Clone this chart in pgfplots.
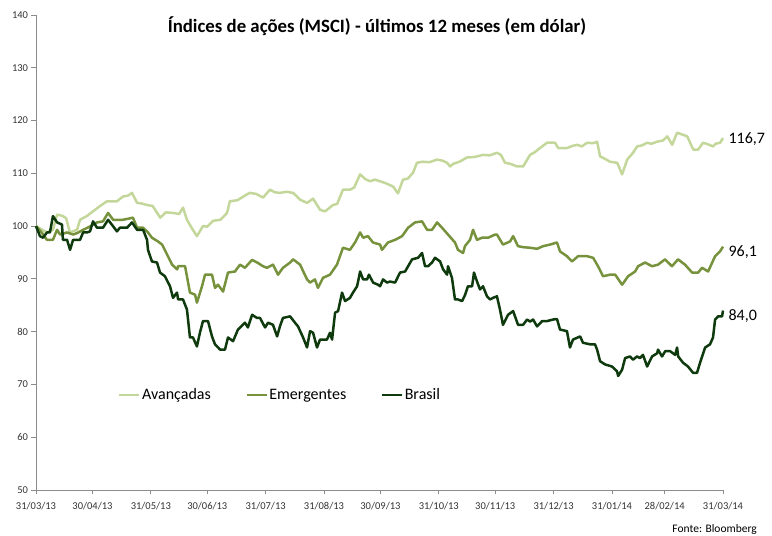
\documentclass[border=0pt]{standalone}
\usepackage{fontspec}
\setmainfont{Carlito}
\usepackage{pgfplots}
\usepackage{pgfplotstable}
\pgfplotsset{compat=1.18}
\definecolor{avan}{HTML}{C4D79B}
\definecolor{emer}{HTML}{76923C}
\definecolor{bras}{HTML}{0E3A0E}
\definecolor{axgray}{HTML}{8C8C8C}
\definecolor{ticktxt}{HTML}{333333}

\pgfplotstableread{
d v
0 100
5.8 98.8
9 99.3
11.2 102.2
14.3 101.9
16 101.5
18 98.8
21.8 99.3
23.4 101.2
27 101.9
30.3 102.8
34 103.8
37.7 104.7
43 104.7
46.2 105.6
49 105.8
51 106.3
53.7 104.4
56 104.3
59 104
62 103.8
66 101.6
69 102.6
72.8 102.5
76 102.3
78.1 103.5
80.2 101.2
83 99.5
85.5 98.1
88.7 100
91 99.9
94 101
98 101.2
101.5 102.5
103 104.7
107 104.9
112 106
113.7 106.3
117 106.1
120.6 105.4
124.3 106.9
127 106.4
129.6 106.3
133 106.5
136.6 106.3
140.3 105
144 104.4
147.2 105.2
150.9 103.1
153.6 102.8
157.8 104
160 104.2
163.1 106.9
166.8 106.9
169 107.3
172.2 109.8
175 108.9
177.5 108.5
180 108.8
182.8 108.5
186 108.1
189.7 107.5
192.3 106.2
195 108.8
197.5 109
200.3 110.1
202.4 112
205.6 112.2
209 112.1
213 112.6
216 112.4
218.4 112
220 111.3
221.6 111.8
225 112.2
229 113
233 113.1
237.5 113.5
241 113.4
244.9 113.9
247 113.5
249.2 112
252 111.8
255.6 111.3
258.8 111.3
262.5 113.5
265 114
267.8 114.8
271.5 115.8
275.8 115.8
277.4 114.8
282.2 114.8
285 115.2
287.5 115.4
290 115.1
292.8 115.8
296 115.7
298.1 116
299.7 113.2
302 112.8
305 112.2
308.8 112
311.4 109.8
314.1 112.6
317 113.8
319.4 115.1
322 115.3
324.7 115.8
327 115.6
330 116
333 116.2
335.4 117
338 115.4
340.6 117.7
343 117.4
346 117
349.2 114.5
351.8 114.5
354.4 115.8
357 115.5
359.7 115.1
361 115.6
363.5 115.8
365 116.7
}\avanc

\pgfplotstableread{
d v
0 100
3 98.8
5.8 97.4
9 97.4
11.2 99.3
12.8 98.4
16.5 98.8
19.7 98.4
22 98.7
25 99.3
28 99.8
32.4 100.7
35.6 100.9
38.3 102.5
41 101.2
46.2 101.2
49 101.4
51.5 101.6
53.7 99.7
56.9 99.7
59.5 98.8
61.6 97.8
64.8 97.1
67 96.5
70.1 94.3
72.3 92.7
75 91.8
75.5 92.4
79.2 92.4
81.8 87.4
84.5 87
85.5 85.5
88.2 88.6
89.8 90.8
93.5 90.8
95.1 88.3
96.7 88.9
99.4 87.6
102 91.2
105.7 91.4
108.4 92.7
111 92.1
114.8 93.6
118 93
120.6 92.4
122.7 92.1
125.9 92.7
128.6 90.8
131.2 92.1
135 93.1
136.6 93.7
140.3 92.7
144 89.9
145.6 89.3
148.2 89.9
149.8 88.3
152.5 90.2
156.2 90.8
159.9 92.7
163.1 95.9
166.8 95.5
169.5 96.9
172.2 98.8
173.8 97.8
176.4 98.1
179 96.9
182.8 96.5
183.8 95.5
187 96.9
190.8 97.4
194.5 98.1
197.7 99.7
201.4 100.7
205.1 100.9
207.8 99.3
210.4 99.3
213.1 100.7
215.7 99.7
218.9 98.4
222.6 96.9
224.2 95.5
226.9 94.9
227.9 96.2
230.6 97.4
232.2 99.3
234.3 97.4
237 97.8
240.2 97.8
243.9 98.4
244.9 98.4
248.1 96.5
251.9 97.1
253.5 98.1
256.1 96.2
259 96
262.5 95.9
266.2 95.7
269.4 96.2
273.1 96.5
276.8 96.9
278.4 95.2
282.1 94.3
284.8 93.3
288 94.3
292.8 94.3
296 94
298.6 92.4
301.3 90.5
305 90.8
307.7 90.8
311.4 88.9
314.6 90.5
318.3 91.4
319.9 92.4
323.6 93.1
327.3 92.4
330.5 92.7
334.2 93.7
337.9 92.4
341.1 93.7
344.8 92.7
348.6 91.2
351.8 91.2
353.9 92.1
357.1 91.4
360.8 94.3
363.4 95.2
365 96.1
}\emerg

\pgfplotstableread{
d v
0 100
2.1 98.1
3.7 97.8
5.8 98.8
7.4 98.8
9 101.9
11.2 100.7
13.8 100.3
14.3 97.4
16.5 97.4
18.1 95.5
19.7 97.4
23.4 97.4
25 98.8
27.1 98.8
28.7 99
30.3 100.9
32.4 99.7
35.6 99.7
38.3 101.2
40.9 100
43 99
44.6 99.7
48.4 99.7
51 100.7
53.7 99.3
56.9 99.3
59 97.4
59.5 95.5
61.6 93.3
64.3 93.1
65.9 91.2
68.5 90.5
71.2 88.6
72.8 86.4
74.9 87.4
75.5 86.1
78.1 86.1
80.2 84.2
81.8 78.9
83.4 78.9
85.5 77.2
87.1 79.8
88.7 82
91.4 82
93.5 79.1
95.1 77.6
97.8 76.6
100.4 76.6
102 78.9
104.7 78.2
107.3 80.4
111 81.7
112.6 80.8
114.8 83.2
117.4 82.6
119 82.6
121.7 80.8
123.3 81.7
125.9 81.3
128.1 79.1
129.6 81
131.2 82.6
135 82.9
137.6 81.7
139.2 81
141.9 78.9
144 77
145.6 80.1
147.2 79.8
149.3 77
150.9 78.5
154.6 78.5
156.2 79.8
157.3 78.5
158.9 83.6
160.5 83.9
162.6 87.4
164.2 85.8
166.8 86.4
168.4 87.4
170.6 88.6
172.2 91.4
173.8 89.9
175.9 89.9
176.9 90.8
179.1 89.3
181.7 88.9
182.8 88.6
184.4 89.9
186.5 89.3
188.1 89.5
190.8 89.3
193.4 91.2
196.1 91.4
199.8 93.7
203 94
205.1 94.9
206.7 92.4
208.3 92.4
210.4 93.1
212 94
214.7 93.3
216.3 91.8
218.4 90.8
218.9 92.4
221 90.2
222.6 86.1
224.2 86.1
226.4 85.8
228 87
229.5 88.6
231.7 88.6
232.7 91.2
234.3 89.5
235.9 88
237.5 88.6
239.6 86.7
241.2 86.1
242.8 86.4
244.9 86.7
246.5 84.2
248.1 81.3
250.8 83.2
253.5 83.9
256.1 81.3
258.8 81.3
260.9 82.3
262.5 81.9
264.1 82.3
266.2 81
268.9 82
271.5 82
274.7 82.3
276.8 82.4
278.4 80.4
282.1 80.1
283.7 77
285.3 78.5
289.1 79.1
290.6 77.9
294.4 77.6
297 77.6
298.1 76.6
299.7 74.4
302.3 73.8
306 73.4
308.7 72.5
309.3 71.6
311.4 72.8
313 75
315.6 75.3
317.2 74.7
319.3 75.3
320.9 75
322.5 75.6
324.7 73.4
327.3 75.3
330 75.9
330.5 76.6
332.6 75.3
334.3 76.3
336.9 76.3
339.6 75.6
340.6 77
341.2 75.3
343.8 74.1
346.4 73.4
349.1 72.2
351.2 72.2
352.8 74.1
355.5 77
358.1 77.6
359.7 78.9
360.8 82.3
362.4 82.9
364.5 82.9
365 84
}\brasil

\begin{document}
\begin{tikzpicture}
\path[use as bounding box] (0,0) rectangle (772pt,536pt);
\begin{axis}[
  at={(36pt,46pt)}, anchor=south west,
  scale only axis, width=687pt, height=475pt,
  xmin=0, xmax=365, ymin=50, ymax=140,
  axis x line=bottom, axis y line=left,
  axis line style={-, draw=axgray, line width=0.8pt},
  tick style={draw=axgray, line width=0.8pt},
  tick align=outside, major tick length=4.5pt,
  xtick={0,30,61,91,122,153,183,214,244,275,306,334,365},
  xticklabels={31/03/13,30/04/13,31/05/13,30/06/13,31/07/13,31/08/13,30/09/13,31/10/13,30/11/13,31/12/13,31/01/14,28/02/14,31/03/14},
  ytick={50,60,...,140},
  /pgf/number format/assume math mode=true,
  tick label style={font=\fontsize{10.5}{12}\selectfont, text=ticktxt},
  x tick label style={yshift=-4pt},
  clip=false,
  legend style={at={(0.115,0.2)}, anchor=west, draw=none, fill=none,
    font=\fontsize{16}{19}\selectfont, legend columns=3,
    /tikz/every even column/.append style={column sep=33pt},
    nodes={inner sep=1.5pt}},
  legend image code/.code={\draw[#1] (0pt,0pt) -- (20pt,0pt);},
  line join=round,
]
\addplot[avan, line width=2.5pt] table[x=d,y=v] {\avanc};
\addlegendentry{Avançadas}
\addplot[emer, line width=2.5pt] table[x=d,y=v] {\emerg};
\addlegendentry{Emergentes}
\addplot[bras, line width=2.5pt] table[x=d,y=v] {\brasil};
\addlegendentry{Brasil}
\node[anchor=west, font=\fontsize{16}{19}\selectfont] at (axis cs:365,116.4) {\hspace{2pt}116,7};
\node[anchor=west, font=\fontsize{16}{19}\selectfont] at (axis cs:365,95.0) {\hspace{2pt}96,1};
\node[anchor=west, font=\fontsize{16}{19}\selectfont] at (axis cs:365,83.0) {\hspace{2pt}84,0};
\end{axis}
\node[font=\bfseries\fontsize{18.8}{22}\selectfont] at (377pt,510pt) {Índices de ações (MSCI) - últimos 12 meses (em dólar)};
\node[anchor=base east, font=\fontsize{11.5}{14}\selectfont, inner sep=0pt] at (757pt,3pt) {Fonte: Bloomberg};
\end{tikzpicture}
\end{document}
